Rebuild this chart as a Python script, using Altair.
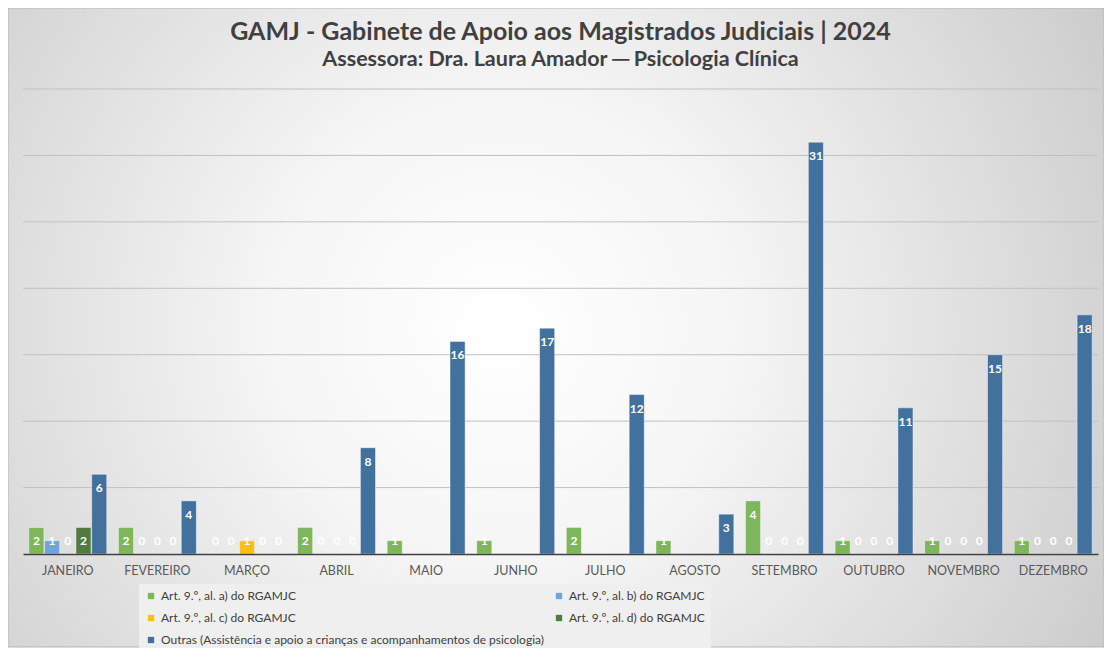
import altair as alt
import pandas as pd

months = ["JANEIRO", "FEVEREIRO", "MARÇO", "ABRIL", "MAIO", "JUNHO",
          "JULHO", "AGOSTO", "SETEMBRO", "OUTUBRO", "NOVEMBRO", "DEZEMBRO"]
series = ["Art. 9.º, al. a) do RGAMJC",
          "Art. 9.º, al. b) do RGAMJC",
          "Art. 9.º, al. c) do RGAMJC",
          "Art. 9.º, al. d) do RGAMJC",
          "Outras (Assistência e apoio a crianças e acompanhamentos de psicologia)"]
colors = ["#7db65b", "#6fa5db", "#fdc010", "#527a3e", "#43719e"]

al_a = [2, 2, 0, 2, 1, 1, 2, 1, 4, 1, 1, 1]
al_b = [1, 0, 0, 0, None, None, None, None, 0, 0, 0, 0]
al_c = [0, 0, 1, 0, None, None, None, None, 0, 0, 0, 0]
al_d = [2, 0, 0, 0, None, None, None, None, 0, 0, 0, 0]
outras = [6, 4, 0, 8, 16, 17, 12, 3, 31, 11, 15, 18]
grid_ticks = [5, 10, 15, 20, 25, 30, 35]

rows = []
for s, vals in zip(series, [al_a, al_b, al_c, al_d, outras]):
    for m, v in zip(months, vals):
        if v is not None:
            rows.append({"month": m, "series": s, "value": v})
df = pd.DataFrame(rows)

W, H = 1075, 465
FONT = "Lato"

bg = alt.Chart(pd.DataFrame({"k": [0]})).mark_rect(
    fill={"gradient": "radial", "x1": 0.45, "y1": 0.5, "r1": 0,
          "x2": 0.45, "y2": 0.5, "r2": 0.72,
          "stops": [{"offset": 0, "color": "#ffffff"},
                    {"offset": 0.3, "color": "#f5f5f5"},
                    {"offset": 0.65, "color": "#dcdcdc"},
                    {"offset": 1, "color": "#c2c2c2"}]},
    stroke="#b5b5b5", strokeWidth=1
).encode(x=alt.value(-15), x2=alt.value(W + 6), y=alt.value(-81), y2=alt.value(H + 93))

grid = alt.Chart(pd.DataFrame({"t": grid_ticks})).mark_rule(
    color="#c0c0c0", strokeWidth=1
).encode(y=alt.Y("t:Q"), x=alt.value(0), x2=alt.value(W))

xenc = alt.X("month:N", sort=months, title=None,
             scale=alt.Scale(paddingInner=0.13, paddingOuter=0.065),
             axis=alt.Axis(labelAngle=0, ticks=False, domainColor="#404040",
                           domainWidth=1.5, labelColor="#595959", labelFont=FONT,
                           labelFontSize=12.5, labelPadding=10, zindex=1))
yscale = alt.Scale(domain=[0, 35], nice=False)

bars = alt.Chart(df).mark_bar(stroke="#ffffff", strokeOpacity=0.45, strokeWidth=1).encode(
    x=xenc,
    xOffset=alt.XOffset("series:N", sort=series, scale=alt.Scale(paddingInner=0.04)),
    y=alt.Y("value:Q", scale=yscale, title=None,
            axis=alt.Axis(labels=False, ticks=False, domain=False, grid=False)),
    color=alt.Color("series:N", sort=series,
                    scale=alt.Scale(domain=series, range=colors),
                    legend=alt.Legend(title=None, orient="none", legendX=116, legendY=495,
                                      columns=2, columnPadding=9, direction="horizontal",
                                      symbolType="square", symbolSize=40, symbolStrokeWidth=0,
                                      symbolOffset=0, labelOffset=4,
                                      labelFont=FONT, labelFontSize=12, labelColor="#404040",
                                      labelLimit=500, rowPadding=10, padding=6,
                                      fillColor="#efefef")),
)

labels = alt.Chart(df).transform_calculate(
    pos="max(datum.value - 1.05, 0.95)"
).mark_text(color="white", fontWeight="bold", font=FONT, fontSize=12, baseline="middle").encode(
    x=alt.X("month:N", sort=months),
    xOffset=alt.XOffset("series:N", sort=series),
    y=alt.Y("pos:Q", scale=yscale),
    text=alt.Text("value:Q"),
)

chart = alt.layer(bg, grid, bars, labels).properties(
    width=W, height=H,
    autosize=alt.AutoSizeParams(type="none"),
    padding={"left": 15, "top": 81, "right": 6, "bottom": 94},
    title=alt.Title(
        "GAMJ - Gabinete de Apoio aos Magistrados Judiciais | 2024",
        subtitle="Assessora: Dra. Laura Amador ─ Psicologia Clínica",
        anchor="middle", frame="group", font=FONT, fontSize=25, fontWeight="bold",
        color="#404040",
        subtitleFont=FONT, subtitleFontSize=21.5, subtitleFontWeight="bold",
        subtitleColor="#404040", subtitlePadding=4, offset=-63,
    ),
).configure_view(stroke=None).configure(background="#ffffff")

chart.save("out.html", embed_options={"renderer": "svg", "actions": False})
